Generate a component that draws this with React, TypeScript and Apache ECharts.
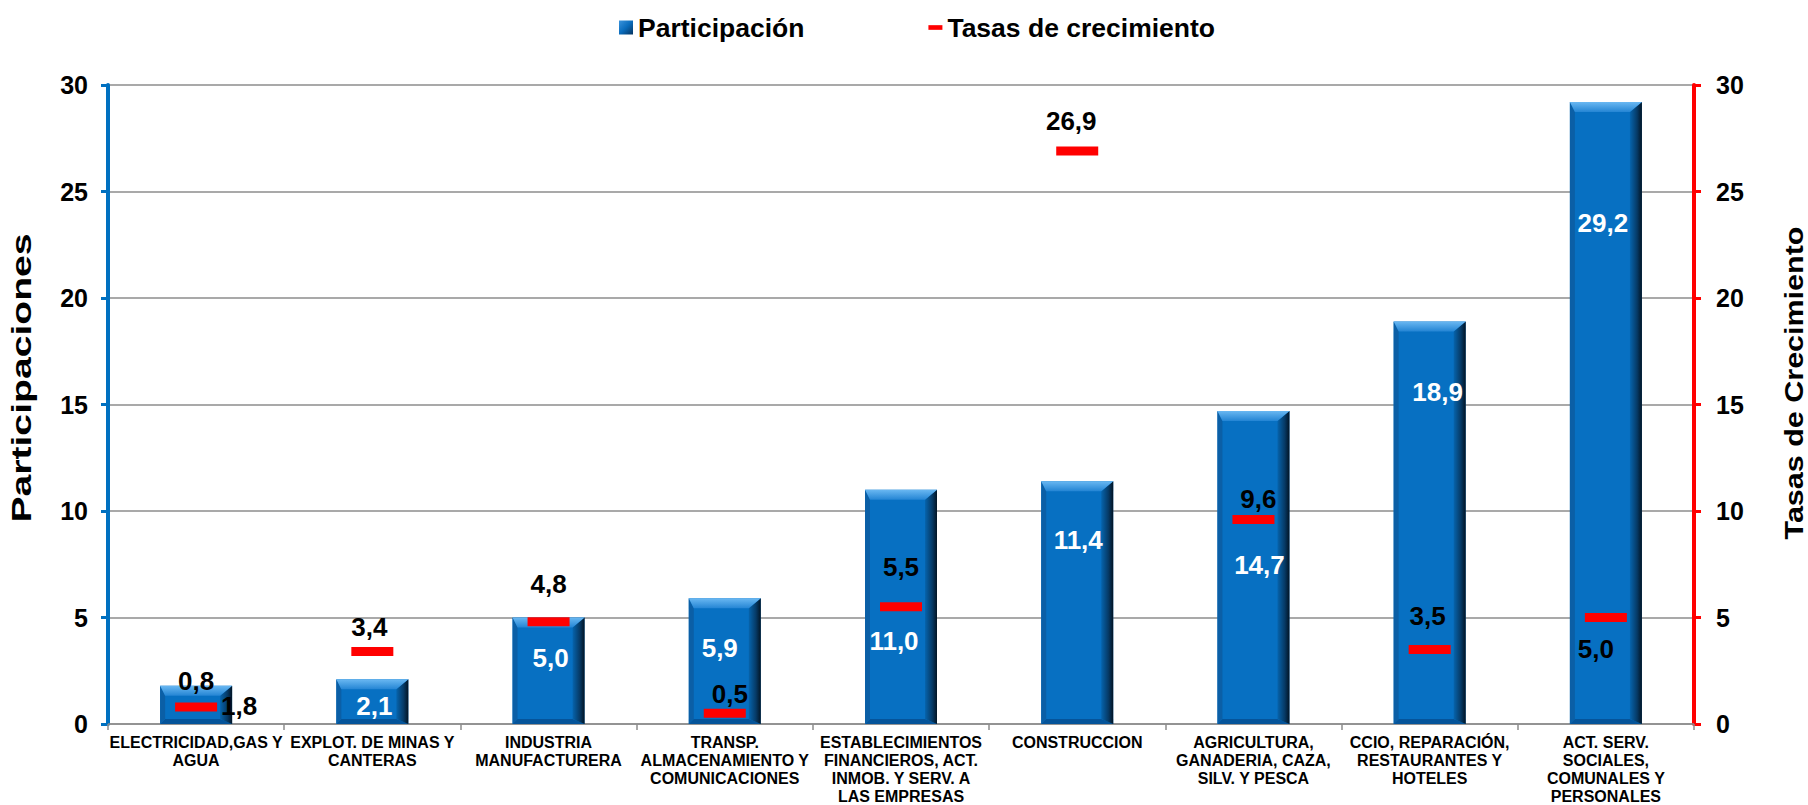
import React, { useEffect, useRef } from "react";
import * as echarts from "echarts";

const categories = [
  "ELECTRICIDAD,GAS Y\nAGUA",
  "EXPLOT. DE MINAS Y\nCANTERAS",
  "INDUSTRIA\nMANUFACTURERA",
  "TRANSP.\nALMACENAMIENTO Y\nCOMUNICACIONES",
  "ESTABLECIMIENTOS\nFINANCIEROS, ACT.\nINMOB. Y SERV. A\nLAS EMPRESAS",
  "CONSTRUCCION",
  "AGRICULTURA,\nGANADERIA, CAZA,\nSILV. Y PESCA",
  "CCIO, REPARACIÓN,\nRESTAURANTES Y\nHOTELES",
  "ACT. SERV.\nSOCIALES,\nCOMUNALES Y\nPERSONALES",
];
const participacion = [1.8, 2.1, 5.0, 5.9, 11.0, 11.4, 14.7, 18.9, 29.2];
const tasas = [0.8, 3.4, 4.8, 0.5, 5.5, 26.9, 9.6, 3.5, 5.0];
const axisMin = 0;
const axisMax = 30;
const axisInterval = 5;
const leftTitle = "Participaciones";
const rightTitle = "Tasas de Crecimiento";

// label styling (pixel offsets), kept apart from the data
const barLabelOffsets = [[43, 20], [2, 27], [2, 40], [-5, 50], [-7, 151], [1, 59], [6, 154], [8, 71], [-3, 121]];
const barLabelColors = ["#000", "#fff", "#fff", "#fff", "#fff", "#fff", "#fff", "#fff", "#fff"];
const tasaLabelOffsets = [[0, -26], [-3, -25], [0, -38], [5, -19], [0, -40], [-6, -30], [5, -21], [-2, -33], [-10, 31]];

const FONT = "'Liberation Sans', Arial, Helvetica, sans-serif";
const fmt = (v: number) => v.toFixed(1).replace(".", ",");

export default function App() {
  const ref = useRef<HTMLDivElement>(null);
  useEffect(() => {
    if (!ref.current) return;
    const chart = echarts.init(ref.current, undefined, { renderer: "svg" });
    const barData = categories.map((c, i) => [i, participacion[i]]);
    const option: any = {
      animation: false,
      backgroundColor: "#fff",
      textStyle: { fontFamily: FONT },
      legend: {
        left: 614,
        top: 9,
        itemWidth: 14,
        itemHeight: 14,
        itemGap: 124,
        textStyle: { fontSize: 26.5, fontWeight: "bold", color: "#000", fontFamily: FONT },
        data: [
          {
            name: "Participación",
            icon: "rect",
            itemStyle: {
              color: new echarts.graphic.LinearGradient(0, 0, 1, 1, [
                { offset: 0, color: "#3b94dd" },
                { offset: 0.5, color: "#0a6cbc" },
                { offset: 1, color: "#06335e" },
              ]),
            },
          },
          { name: "Tasas de crecimiento", icon: "path://M0,0h30v10h-30z", itemStyle: { color: "#ff0000", opacity: 1 } },
        ],
      },
      graphic: [
        {
          type: "text",
          x: 22,
          y: 378,
          rotation: Math.PI / 2,
          scaleX: 1.45,
          style: {
            text: leftTitle,
            font: `bold 27px ${FONT}`,
            fill: "#000",
            align: "center",
            verticalAlign: "middle",
          },
        },
        {
          type: "text",
          x: 1794,
          y: 383,
          rotation: Math.PI / 2,
          scaleX: 1.22,
          style: {
            text: rightTitle,
            font: `bold 25px ${FONT}`,
            fill: "#000",
            align: "center",
            verticalAlign: "middle",
          },
        },
      ],
      grid: { left: 108, right: 114, top: 85, bottom: 79, containLabel: false },
      xAxis: {
        type: "category",
        data: categories,
        axisLine: { show: true, lineStyle: { color: "#8c8c8c", width: 1.5 } },
        axisTick: { show: true, alignWithLabel: false, length: 6, lineStyle: { color: "#8c8c8c", width: 1.5 } },
        axisLabel: {
          interval: 0,
          margin: 9,
          fontSize: 16,
          lineHeight: 18,
          fontWeight: "bold",
          color: "#000",
          fontFamily: FONT,
          align: "center",
        },
        splitLine: { show: false },
      },
      yAxis: [
        {
          type: "value",
          position: "left",
          min: axisMin,
          max: axisMax,
          interval: axisInterval,
          axisLine: { show: true, lineStyle: { color: "#0070C0", width: 4 } },
          axisTick: { show: true, length: 7, lineStyle: { color: "#0070C0", width: 3 } },
          axisLabel: { margin: 20, fontSize: 25, fontWeight: "bold", color: "#000", fontFamily: FONT },
          splitLine: { show: true, lineStyle: { color: "#8c8c8c", width: 1.5 } },
        },
        {
          type: "value",
          position: "right",
          min: axisMin,
          max: axisMax,
          interval: axisInterval,
          axisLine: { show: true, lineStyle: { color: "#FF0000", width: 4 } },
          axisTick: { show: true, length: 7, lineStyle: { color: "#FF0000", width: 3 } },
          axisLabel: { margin: 22, fontSize: 25, fontWeight: "bold", color: "#000", fontFamily: FONT },
          splitLine: { show: false },
        },
      ],
      series: [
        {
          name: "Participación",
          type: "custom",
          yAxisIndex: 0,
          z: 2,
          itemStyle: { color: "#0a6cbc" },
          data: barData,
          renderItem: (params: any, api: any) => {
            const idx = api.value(0);
            const v = api.value(1);
            const top = api.coord([idx, v]);
            const base = api.coord([idx, 0]);
            const w = 72;
            const x0 = top[0] - w / 2;
            const x1 = top[0] + w / 2;
            const yt = top[1];
            const yb = base[1];
            const h = yb - yt;
            const bt = Math.min(10, h / 3);
            const br = Math.min(12, h / 3);
            const bl = Math.min(5, h / 4);
            const bb = Math.min(5, h / 4);
            const off = barLabelOffsets[params.dataIndex] || [0, 30];
            return {
              type: "group",
              children: [
                { type: "rect", shape: { x: x0, y: yt, width: w, height: h }, style: { fill: "#0770c2" } },
                {
                  type: "polygon",
                  shape: { points: [[x0, yb], [x1, yb], [x1 - br, yb - bb], [x0 + bl, yb - bb]] },
                  style: { fill: "#05549a" },
                },
                {
                  type: "polygon",
                  shape: { points: [[x0, yt], [x0 + bl, yt + bt], [x0 + bl, yb - bb], [x0, yb]] },
                  style: { fill: "#0b5fa6" },
                },
                {
                  type: "polygon",
                  shape: { points: [[x1, yt], [x1, yb], [x1 - br, yb - bb], [x1 - br, yt + bt]] },
                  style: {
                    fill: new echarts.graphic.LinearGradient(0, 0, 1, 0, [
                      { offset: 0, color: "#0664ad" },
                      { offset: 0.6, color: "#063a66" },
                      { offset: 1, color: "#021424" },
                    ]),
                  },
                },
                {
                  type: "polygon",
                  shape: { points: [[x0, yt], [x1, yt], [x1 - br, yt + bt], [x0 + bl, yt + bt]] },
                  style: {
                    fill: new echarts.graphic.LinearGradient(0, 0, 0, 1, [
                      { offset: 0, color: "#6ab8f2" },
                      { offset: 1, color: "#2485d4" },
                    ]),
                  },
                },
                {
                  type: "text",
                  z2: 10,
                  style: {
                    x: top[0] + off[0],
                    y: yt + off[1],
                    text: fmt(v),
                    fill: barLabelColors[params.dataIndex] || "#fff",
                    font: `bold 26px ${FONT}`,
                    align: "center",
                    verticalAlign: "middle",
                  },
                },
              ],
            };
          },
        },
        {
          name: "Tasas de crecimiento",
          type: "scatter",
          yAxisIndex: 1,
          z: 5,
          symbol: "rect",
          symbolSize: [42, 9],
          itemStyle: { color: "#FF0000", opacity: 1 },
          label: {
            show: true,
            position: "inside",
            color: "#000",
            opacity: 1,
            fontSize: 26,
            fontWeight: "bold",
            fontFamily: FONT,
            formatter: (p: any) => fmt(p.value[1]),
          },
          data: tasas.map((t, i) => ({
            value: [i, t],
            label: { offset: tasaLabelOffsets[i] },
          })),
        },
      ],
    };
    chart.setOption(option);
    return () => chart.dispose();
  }, []);
  return (
    <div
      ref={ref}
      style={{ position: "absolute", left: 0, top: 0, width: 1808, height: 805 }}
    />
  );
}
